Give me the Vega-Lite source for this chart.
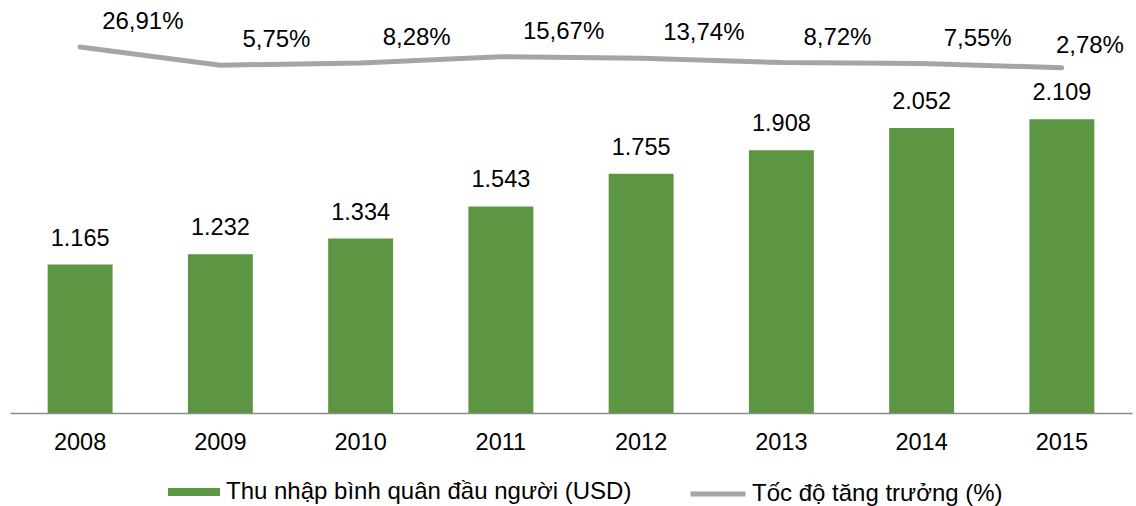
{
  "$schema": "https://vega.github.io/schema/vega-lite/v6.json",
  "width": 1122,
  "height": 400,
  "autosize": {"type": "none"},
  "padding": {"left": 10, "top": 13, "right": 4, "bottom": 93},
  "config": {
    "view": {"stroke": null},
    "font": "Liberation Sans",
    "locale": {"number": {"decimal": ",", "thousands": ".", "grouping": [3], "currency": ["", ""]}}
  },
  "data": {
    "values": [
      {"year": "2008", "income": 1165, "growth": 0.2691},
      {"year": "2009", "income": 1232, "growth": 0.0575},
      {"year": "2010", "income": 1334, "growth": 0.0828},
      {"year": "2011", "income": 1543, "growth": 0.1567},
      {"year": "2012", "income": 1755, "growth": 0.1374},
      {"year": "2013", "income": 1908, "growth": 0.0872},
      {"year": "2014", "income": 2052, "growth": 0.0755},
      {"year": "2015", "income": 2109, "growth": 0.0278}
    ]
  },
  "encoding": {
    "x": {
      "field": "year",
      "type": "ordinal",
      "scale": {"paddingInner": 0.537, "paddingOuter": 0.2685},
      "axis": {
        "title": null,
        "domainColor": "#8c8c8c",
        "domainWidth": 1.5,
        "ticks": false,
        "labelFontSize": 23.5,
        "labelColor": "#000000",
        "labelPadding": 17,
        "labelAngle": 0
      }
    }
  },
  "layer": [
    {
      "mark": {"type": "bar"},
      "encoding": {
        "y": {"field": "income", "type": "quantitative", "scale": {"domain": [200, 2800]}, "axis": null},
        "y2": {"datum": 200},
        "fill": {
          "datum": "Thu nhập bình quân đầu người (USD)",
          "scale": {"range": ["#5d9643"]},
          "legend": {
            "orient": "none",
            "legendX": 158,
            "legendY": 453,
            "title": null,
            "symbolType": "M-1,-0.15L1,-0.15L1,0.15L-1,0.15Z",
            "symbolSize": 2704,
            "symbolStrokeWidth": 0,
            "labelFontSize": 24,
            "labelColor": "#000000",
            "labelOffset": 6,
            "labelLimit": 0,
            "padding": 0
          }
        }
      }
    },
    {
      "mark": {"type": "text", "dy": -26, "fontSize": 23.5, "baseline": "middle", "color": "#000000"},
      "encoding": {
        "y": {"field": "income", "type": "quantitative", "scale": {"domain": [200, 2800]}, "axis": null},
        "text": {"field": "income", "type": "quantitative", "format": ",d"}
      }
    },
    {
      "mark": {"type": "line", "strokeWidth": 5, "strokeCap": "round", "strokeJoin": "round"},
      "encoding": {
        "y": {"field": "growth", "type": "quantitative", "scale": {"domain": [-4.0, 0.666]}, "axis": null},
        "stroke": {
          "datum": "Tốc độ tăng trưởng (%)",
          "scale": {"range": ["#a5a5a5"]},
          "legend": {
            "orient": "none",
            "legendX": 678,
            "legendY": 451,
            "title": null,
            "symbolType": "stroke",
            "symbolSize": 3025,
            "symbolStrokeWidth": 5,
            "labelFontSize": 24,
            "labelColor": "#000000",
            "labelOffset": 4,
            "labelLimit": 0,
            "padding": 0
          }
        }
      }
    },
    {
      "transform": [{"filter": "datum.year != '2015'"}],
      "mark": {"type": "text", "align": "left", "dx": 22, "dy": -25, "fontSize": 24, "baseline": "middle", "color": "#000000"},
      "encoding": {
        "y": {"field": "growth", "type": "quantitative", "scale": {"domain": [-4.0, 0.666]}, "axis": null},
        "text": {"field": "growth", "type": "quantitative", "format": ".2%"}
      }
    },
    {
      "transform": [{"filter": "datum.year == '2015'"}],
      "mark": {"type": "text", "align": "left", "dx": -6, "dy": -22, "fontSize": 24, "baseline": "middle", "color": "#000000"},
      "encoding": {
        "y": {"field": "growth", "type": "quantitative", "scale": {"domain": [-4.0, 0.666]}, "axis": null},
        "text": {"field": "growth", "type": "quantitative", "format": ".2%"}
      }
    }
  ],
  "resolve": {"scale": {"y": "independent"}}
}
